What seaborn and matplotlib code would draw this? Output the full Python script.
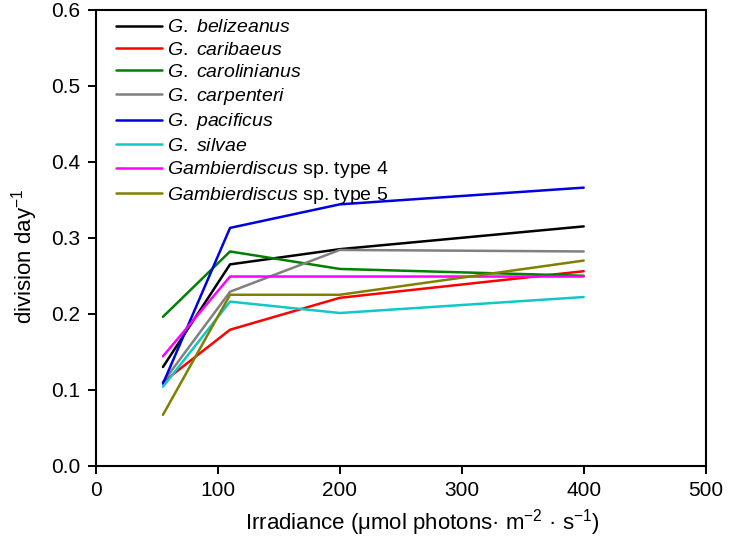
import pandas as pd
import numpy as np
import seaborn as sns
import matplotlib.pyplot as plt

# irradiance levels and growth rates
irradiance = [55, 110, 200, 400]
belizeanus = [0.130, 0.265, 0.285, 0.315]
caribaeus = [0.110, 0.179, 0.221, 0.256]
carolinianus = [0.196, 0.282, 0.259, 0.250]
carpenteri = [0.110, 0.229, 0.284, 0.282]
pacificus = [0.108, 0.313, 0.344, 0.366]
silvae = [0.104, 0.216, 0.201, 0.222]
type4 = [0.144, 0.249, 0.249, 0.249]
type5 = [0.067, 0.225, 0.225, 0.270]

species = ['$\\it{G.\\ belizeanus}$', '$\\it{G.\\ caribaeus}$', '$\\it{G.\\ carolinianus}$',
           '$\\it{G.\\ carpenteri}$', '$\\it{G.\\ pacificus}$', '$\\it{G.\\ silvae}$',
           '$\\it{Gambierdiscus}$ sp. type 4', '$\\it{Gambierdiscus}$ sp. type 5']
rates = [belizeanus, caribaeus, carolinianus, carpenteri, pacificus, silvae, type4, type5]
colors = ['#000000', '#ff0000', '#008000', '#808080', '#0000e0', '#10c8c8', '#ff00ff', '#808000']

rows = []
for name, vals in zip(species, rates):
    for x, y in zip(irradiance, vals):
        rows.append({'Species': name, 'Irradiance': x, 'Rate': y})
df = pd.DataFrame(rows)

sns.set_style('ticks')
plt.rcParams['font.family'] = ['Liberation Sans', 'DejaVu Sans']
plt.rcParams['mathtext.fontset'] = 'custom'
plt.rcParams['mathtext.rm'] = 'Liberation Sans'
plt.rcParams['mathtext.it'] = 'Liberation Sans:italic'
plt.rcParams['text.color'] = 'black'
plt.rcParams['axes.labelcolor'] = 'black'
plt.rcParams['xtick.color'] = 'black'
plt.rcParams['ytick.color'] = 'black'
plt.rcParams['axes.edgecolor'] = 'black'

fig = plt.figure(figsize=(7.32, 5.46), dpi=100)
ax = fig.add_axes([0.131, 0.147, 0.833, 0.835])
sns.lineplot(data=df, x='Irradiance', y='Rate', hue='Species', hue_order=species,
             palette=colors, linewidth=1.8, ax=ax)

ax.set_xlim(0, 500)
ax.set_ylim(0, 0.6)
ax.set_xticks([0, 100, 200, 300, 400, 500])
ax.set_yticks(np.arange(0, 0.61, 0.1))
ax.set_yticklabels(['0.0', '0.1', '0.2', '0.3', '0.4', '0.5', '0.6'])
ax.tick_params(direction='out', length=6, width=1.4, labelsize=15, pad=5)
for s in ax.spines.values():
    s.set_linewidth(1.5)
    s.set_visible(True)
ax.set_xlabel('Irradiance (\u03bcmol photons\u00b7 m$^{-2}$ \u00b7 s$^{-1}$)', fontsize=16, labelpad=5)
ax.set_ylabel('division day$^{-1}$', fontsize=16, labelpad=8)
# the labels in the original sit a bit off centre
ax.xaxis.label.set_x(0.535)
ax.yaxis.label.set_y(0.46)

leg = ax.legend(loc='upper left', frameon=False, fontsize=14, handlelength=2.4,
                labelspacing=0.24, borderaxespad=0.3, handletextpad=0.25,
                bbox_to_anchor=(0.01, 1.01))

fig.savefig('out.png', dpi=100)
